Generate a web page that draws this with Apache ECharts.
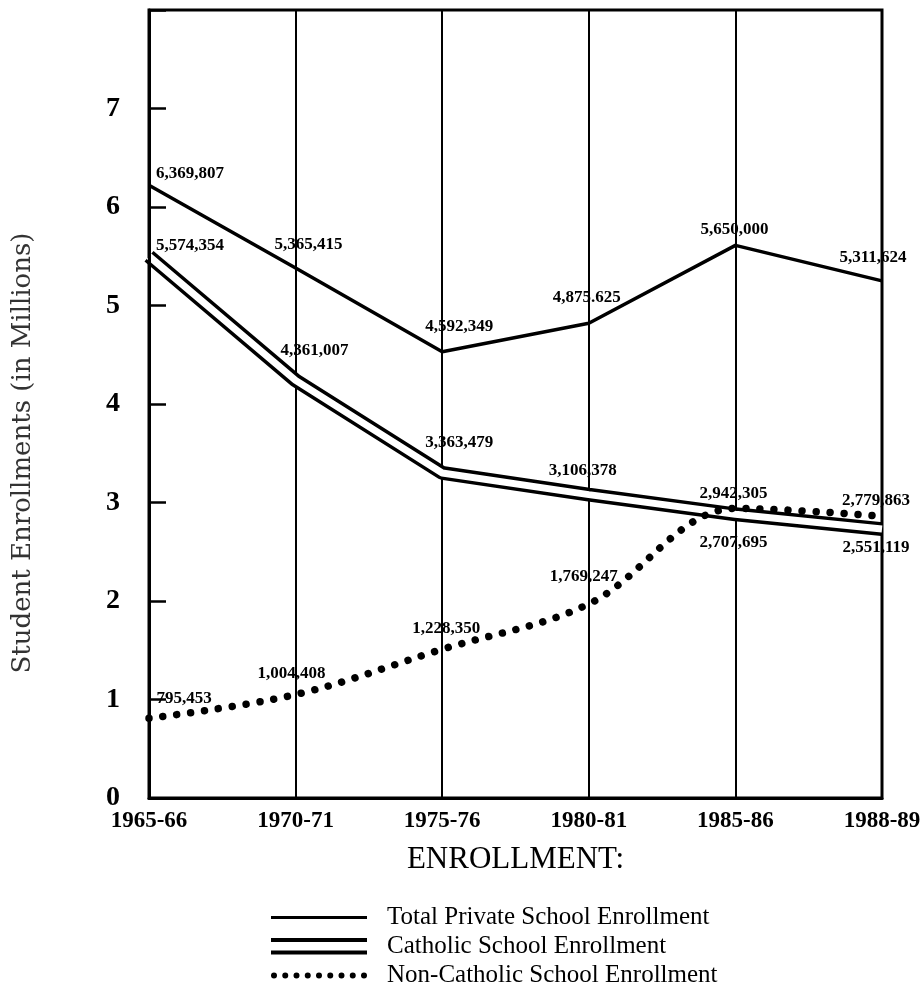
<!DOCTYPE html>
<html>
<head>
<meta charset="utf-8">
<script src="https://cdn.jsdelivr.net/npm/echarts@6/dist/echarts.min.js"></script>
<style>
  html, body { margin: 0; padding: 0; background: #fff; }
  #chart { width: 923px; height: 987px; }
</style>
</head>
<body>
<div id="chart"></div>
<script>
// ---- data ----
const categories = ['1965-66', '1970-71', '1975-76', '1980-81', '1985-86', '1988-89'];
const totalValues = [6.22, 5.38, 4.53, 4.82, 5.61, 5.25];
const catholicValues = [5.50, 4.24, 3.30, 3.08, 2.88, 2.73];
const nonCatholicValues = [0.81, 1.05, 1.51, 1.97, 2.94, 2.86];
const totalLabels = ['6,369,807', '5,365,415', '4,592,349', '4,875.625', '5,650,000', '5,311,624'];
const catholicLabels = ['5,574,354', '4,361,007', '3,363,479', '3,106,378', '2,707,695', '2,551,119'];
const nonCatholicLabels = ['795,453', '1,004,408', '1,228,350', '1,769,247', '2,942,305', '2,779,863'];
const yTickLabels = ['0', '1', '2', '3', '4', '5', '6', '7'];
const seriesNames = ['Total Private School Enrollment', 'Catholic School Enrollment', 'Non-Catholic School Enrollment'];

// ---- label placement (offset of label centre from point, px) ----
const totalOffsets = [[41, -12], [13, -23], [17, -25], [-2, -26], [-1, -16], [-9, -23]];
const catholicOffsets = [[41, -11], [19, -30], [17, -30], [-6, -24], [-2, 28], [-6, 19]];
const nonCatholicOffsets = [[35, -20], [-4, -21], [4, -21], [-5, -27], [-2, -15], [-6, -16]];

const SERIF = "'Liberation Serif', 'DejaVu Serif', serif";
const labelBase = {
  show: true, position: 'inside', color: '#000',
  fontFamily: SERIF, fontSize: 17, fontWeight: 'bold'
};
function withLabels(values, texts, offsets) {
  return values.map((v, i) => ({
    value: v,
    label: Object.assign({}, labelBase, { offset: offsets[i], formatter: () => texts[i] })
  }));
}

// legend icon paths (111 x 18 box, anchored by moveTo corners)
const iconTotal = 'path://M0,0 M111,18 M0,7.5 L96,7.5 L96,10.5 L0,10.5 Z';
const iconCatholic = 'path://M0,0 M111,18 M0,0.5 L96,0.5 L96,4.5 L0,4.5 Z M0,13 L96,13 L96,17 L0,17 Z';
let dots = 'path://M0,0 M111,18';
for (let i = 0; i < 9; i++) {
  const cx = 3 + i * 11.25, r = 3;
  dots += ` M${cx - r},9 A${r},${r} 0 1,0 ${cx + r},9 A${r},${r} 0 1,0 ${cx - r},9 Z`;
}
const iconDots = dots;

const chart = echarts.init(document.getElementById('chart'), null, { renderer: 'canvas' });
chart.setOption({
  animation: false,
  backgroundColor: '#fff',
  grid: {
    left: 149, right: 41, top: 10, bottom: 189,
    containLabel: false, outerBoundsMode: 'none',
    show: true, borderColor: '#000', borderWidth: 3
  },
  legend: {
    orient: 'vertical', left: 271, top: 905, height: 120, padding: 0,
    itemWidth: 111, itemHeight: 18, itemGap: 4,
    symbolKeepAspect: false,
    itemStyle: { color: '#000', borderWidth: 0 },
    textStyle: { fontFamily: SERIF, fontSize: 25, color: '#000' },
    selectedMode: false,
    data: [
      { name: seriesNames[0], icon: iconTotal },
      { name: seriesNames[1], icon: iconCatholic },
      { name: seriesNames[2], icon: iconDots }
    ]
  },
  xAxis: {
    type: 'category', data: categories, boundaryGap: false,
    axisLine: { lineStyle: { color: '#000', width: 3 } },
    axisTick: { show: false },
    splitLine: { show: true, lineStyle: { color: '#000', width: 2 } },
    axisLabel: { interval: 0, margin: 12, color: '#000', fontFamily: SERIF, fontSize: 23, fontWeight: 'bold' },
    name: 'ENROLLMENT:', nameLocation: 'middle', nameGap: 46,
    nameTextStyle: { fontFamily: SERIF, fontSize: 31, color: '#000' }
  },
  yAxis: {
    type: 'value', min: 0, max: 8, interval: 1, z: 10,
    axisLine: { show: true, lineStyle: { color: '#000', width: 3 } },
    axisTick: { show: true, inside: true, length: 17, lineStyle: { color: '#000', width: 2.5 } },
    splitLine: { show: false },
    axisLabel: {
      margin: 29, color: '#000', fontFamily: SERIF, fontSize: 28, fontWeight: 'bold',
      formatter: v => (yTickLabels[v] !== undefined ? yTickLabels[v] : '')
    },
    name: 'Student Enrollments (in Millions)', nameLocation: 'middle', nameGap: 113,
    nameTextStyle: { fontFamily: "'DejaVu Serif', serif", fontSize: 26, color: '#333', padding: [0, 98, 0, 0] }
  },
  series: [
    {
      name: seriesNames[0], type: 'line', z: 3,
      data: withLabels(totalValues, totalLabels, totalOffsets),
      symbol: 'circle', symbolSize: 1,
      itemStyle: { color: 'rgba(0,0,0,0)' },
      lineStyle: { color: '#000', width: 3.5 }
    },
    {
      name: seriesNames[1], type: 'line', z: 3,
      data: catholicValues,
      symbol: 'none',
      itemStyle: { color: '#000' },
      lineStyle: { color: '#000', width: 14 }
    },
    {
      name: seriesNames[1] + ' ', type: 'line', z: 4,
      data: withLabels(catholicValues, catholicLabels, catholicOffsets),
      symbol: 'circle', symbolSize: 1,
      itemStyle: { color: 'rgba(0,0,0,0)' },
      lineStyle: { color: '#fff', width: 7 }
    },
    {
      name: seriesNames[2], type: 'line', z: 5, smooth: 0.35,
      data: withLabels(nonCatholicValues, nonCatholicLabels, nonCatholicOffsets),
      symbol: 'circle', symbolSize: 1,
      itemStyle: { color: 'rgba(0,0,0,0)' },
      lineStyle: { color: '#000', width: 7.5, type: [0.01, 14], cap: 'round' }
    }
  ]
});
</script>
</body>
</html>
